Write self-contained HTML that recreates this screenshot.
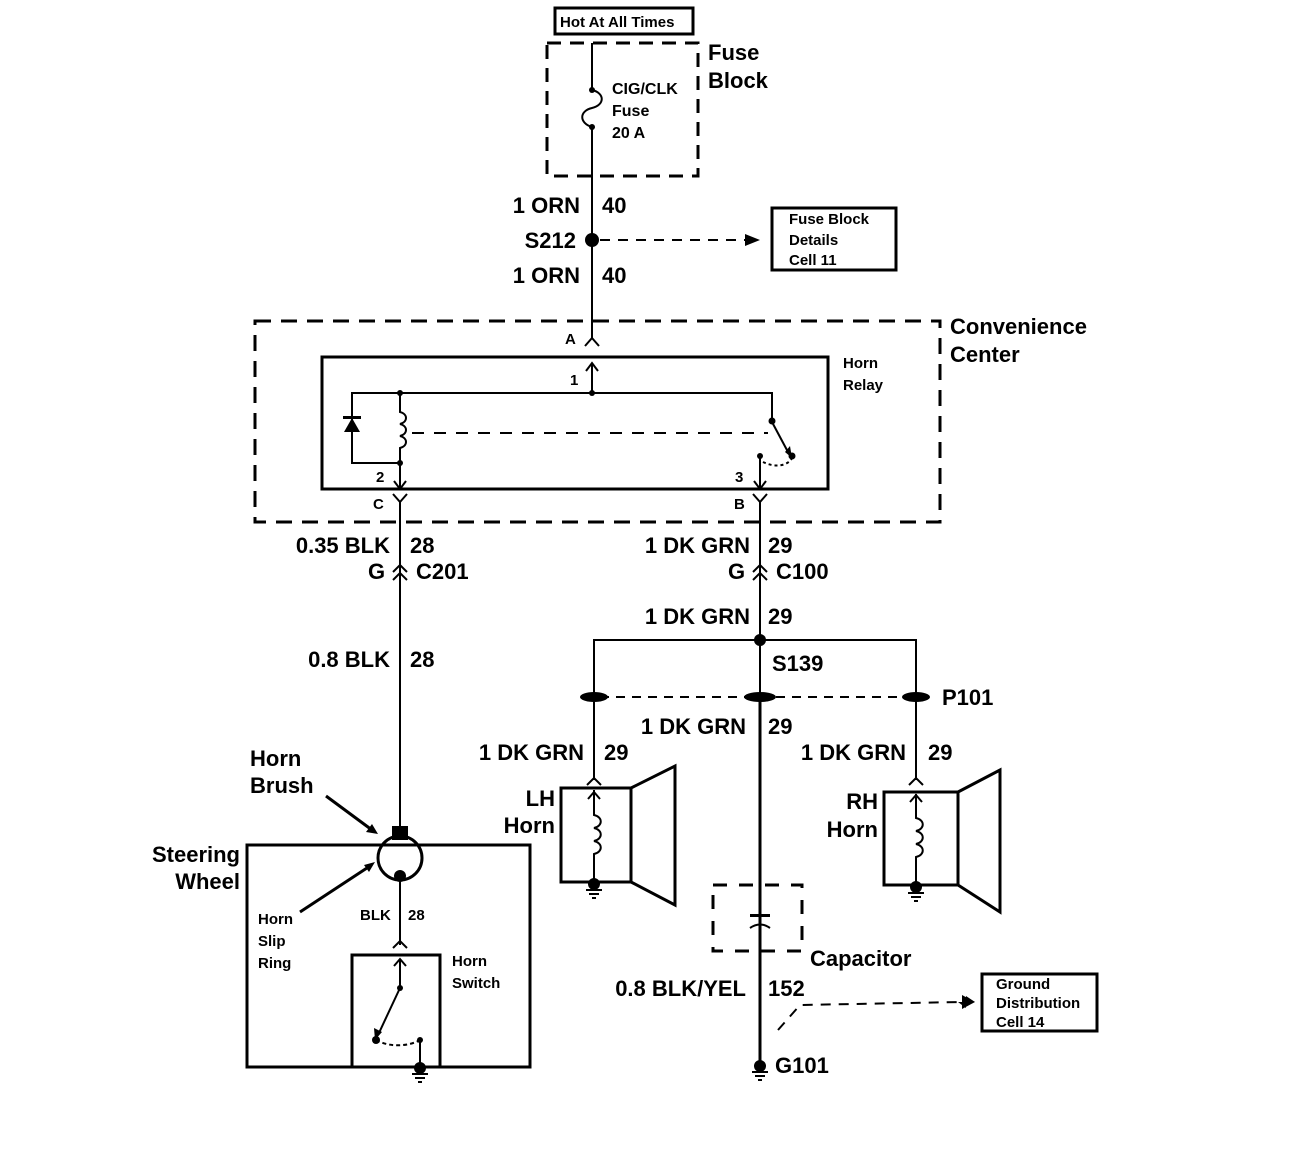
<!DOCTYPE html>
<html><head><meta charset="utf-8"><style>
html,body{margin:0;padding:0;background:#fff}
svg{display:block}
text{font-family:"Liberation Sans",sans-serif;font-weight:bold;fill:#000}
.b{font-size:22px}.s{font-size:15px}.m{font-size:16px}
</style></head><body>
<svg width="1312" height="1154" viewBox="0 0 1312 1154" xmlns="http://www.w3.org/2000/svg">
<g fill="none" stroke="#000" stroke-width="2">
<!-- Hot box -->
<rect x="555" y="8" width="138" height="26" stroke-width="3"/>
<rect x="547" y="43" width="151" height="133" stroke-width="3" stroke-dasharray="14,9"/>
<!-- main wire -->
<line x1="592" y1="43" x2="592" y2="90"/>
<path d="M592 90 C605 93 605 105 592 108 C579 111 579 123 592 127"/>
<line x1="592" y1="127" x2="592" y2="338"/>
<line x1="600" y1="240" x2="745" y2="240" stroke-dasharray="10,8"/>
<rect x="772" y="208" width="124" height="62" stroke-width="3"/>
<!-- conv center -->
<rect x="255" y="321" width="685" height="201" stroke-width="3" stroke-dasharray="16,10"/>
<path d="M585 346 L592 338 L599 346"/>
<rect x="322" y="357" width="506" height="132" stroke-width="3"/>
<line x1="592" y1="364" x2="592" y2="393"/>
<path d="M586 371 L592 363 L598 371"/>
<path d="M400 393 L772 393 L772 420"/>
<path d="M400 393 L352 393 L352 463 L400 463"/>
<path d="M400 393 L400 412 C408 414 408 422 400 424 C408 426 408 434 400 436 C408 438 408 446 400 448 L400 489"/>
<path d="M394 481 L400 489 L406 481"/>
<line x1="412" y1="433" x2="768" y2="433" stroke-dasharray="12,10"/>
<line x1="772" y1="422" x2="788" y2="452"/>
<line x1="760" y1="456" x2="760" y2="489"/>
<path d="M754 481 L760 489 L766 481"/>
<path d="M763 462 C775 468 788 466 792 458" stroke-dasharray="3,3"/>
<path d="M393 494 L400 502 L407 494 M400 502 L400 510"/>
<path d="M753 494 L760 502 L767 494 M760 502 L760 510"/>
<!-- left wire -->
<line x1="400" y1="502" x2="400" y2="826"/>
<path d="M393 572 L400 565 L407 572 M393 580 L400 573 L407 580"/>
<!-- right wire -->
<line x1="760" y1="502" x2="760" y2="697"/>
<path d="M753 572 L760 565 L767 572 M753 580 L760 573 L767 580"/>
<path d="M594 780 L594 640 L916 640 L916 780"/>
<line x1="760" y1="697" x2="760" y2="1065" stroke-width="3"/>
<line x1="600" y1="697" x2="910" y2="697" stroke-dasharray="9,7"/>
<!-- LH horn -->
<rect x="561" y="788" width="70" height="94" stroke-width="3"/>
<path d="M631 788 L675 766 L675 905 L631 882" stroke-width="3"/>
<path d="M587 785 L594 778 L601 785"/>
<path d="M594 790 L594 815 C603 817 603 826 594 828 C603 830 603 839 594 841 C603 843 603 852 594 854 L594 882"/>
<path d="M588 799 L594 792 L600 799"/>
<!-- RH horn -->
<rect x="884" y="792" width="74" height="93" stroke-width="3"/>
<path d="M958 792 L1000 770 L1000 912 L958 885" stroke-width="3"/>
<path d="M909 785 L916 778 L923 785"/>
<path d="M916 794 L916 818 C925 820 925 829 916 831 C925 833 925 842 916 844 C925 846 925 855 916 857 L916 885"/>
<path d="M910 802 L916 795 L922 802"/>
<!-- capacitor -->
<rect x="713" y="885" width="89" height="66" stroke-width="3" stroke-dasharray="14,12"/>
<!-- ground dist -->
<path d="M778 1030 L800 1005 L962 1002" stroke-dasharray="10,8"/>
<rect x="982" y="974" width="115" height="57" stroke-width="3"/>
<!-- steering -->
<line x1="326" y1="796" x2="372" y2="830" stroke-width="3"/>
<rect x="247" y="845" width="283" height="222" stroke-width="3"/>
<circle cx="400" cy="858" r="22" stroke-width="3"/>
<line x1="300" y1="912" x2="370" y2="866" stroke-width="3"/>
<line x1="400" y1="876" x2="400" y2="945"/>
<path d="M393 948 L400 941 L407 948"/>
<rect x="352" y="955" width="88" height="112" stroke-width="3"/>
<line x1="400" y1="960" x2="400" y2="988"/>
<path d="M394 966 L400 959 L406 966"/>
<line x1="400" y1="988" x2="378" y2="1035"/>
<path d="M376 1040 C390 1048 410 1046 420 1040" stroke-dasharray="4,3"/>
<line x1="420" y1="1040" x2="420" y2="1067"/>
</g>
<g fill="#000">
<circle cx="592" cy="240" r="7"/>
<polygon points="760,240 745,234 745,246"/>
<circle cx="592" cy="90" r="3"/><circle cx="592" cy="127" r="3"/>
<circle cx="592" cy="393" r="3"/><circle cx="400" cy="393" r="3"/><circle cx="400" cy="463" r="3"/>
<circle cx="772" cy="421" r="3.5"/><circle cx="792" cy="456" r="3.5"/><circle cx="760" cy="456" r="3"/>
<polygon points="344,432 360,432 352,418"/><rect x="343" y="416" width="18" height="3"/>
<polygon points="785,452 792,458 790,446"/>
<circle cx="760" cy="640" r="6"/>
<ellipse cx="594" cy="697" rx="14" ry="5"/><ellipse cx="760" cy="697" rx="16" ry="5"/><ellipse cx="916" cy="697" rx="14" ry="5"/>
<rect x="750" y="914" width="20" height="3"/>
<polygon points="958,1002 975,1002 966,996 966,1008" /><polygon points="975,1002 962,995 962,1009"/>
<rect x="392" y="826" width="16" height="14"/>
<polygon points="378,834 366,832 372,824"/>
<polygon points="375,862 364,865 369,872"/>
<circle cx="400" cy="876" r="6"/>
<circle cx="400" cy="988" r="3"/><circle cx="376" cy="1040" r="4"/><circle cx="420" cy="1040" r="3"/>
<polygon points="375,1040 374,1028 382,1032"/>
</g>
<!-- grounds -->
<g stroke="#000" stroke-width="2">
<circle cx="594" cy="884" r="5" fill="#000"/><line x1="586" y1="890" x2="602" y2="890"/><line x1="589" y1="894" x2="599" y2="894"/><line x1="592" y1="898" x2="596" y2="898"/>
<circle cx="916" cy="887" r="5" fill="#000"/><line x1="908" y1="893" x2="924" y2="893"/><line x1="911" y1="897" x2="921" y2="897"/><line x1="914" y1="901" x2="918" y2="901"/>
<circle cx="760" cy="1066" r="5" fill="#000"/><line x1="752" y1="1072" x2="768" y2="1072"/><line x1="755" y1="1076" x2="765" y2="1076"/><line x1="758" y1="1080" x2="762" y2="1080"/>
<circle cx="420" cy="1068" r="5" fill="#000"/><line x1="412" y1="1074" x2="428" y2="1074"/><line x1="415" y1="1078" x2="425" y2="1078"/><line x1="418" y1="1082" x2="422" y2="1082"/>
<line x1="759" y1="922" x2="759" y2="928" stroke="none"/>
<path d="M750 928 Q760 921 770 928" fill="none"/>
</g>
<!-- text -->
<text x="560" y="27" class="s">Hot At All Times</text>
<text x="708" y="60" class="b">Fuse</text><text x="708" y="88" class="b">Block</text>
<text x="612" y="94" class="m">CIG/CLK</text><text x="612" y="116" class="m">Fuse</text><text x="612" y="138" class="m">20 A</text>
<text x="580" y="213" class="b" text-anchor="end">1 ORN</text><text x="602" y="213" class="b">40</text>
<text x="576" y="248" class="b" text-anchor="end">S212</text>
<text x="580" y="283" class="b" text-anchor="end">1 ORN</text><text x="602" y="283" class="b">40</text>
<text x="789" y="224" class="s">Fuse Block</text><text x="789" y="245" class="s">Details</text><text x="789" y="265" class="s">Cell 11</text>
<text x="950" y="334" class="b">Convenience</text><text x="950" y="362" class="b">Center</text>
<text x="565" y="344" class="s">A</text><text x="570" y="385" class="s">1</text>
<text x="843" y="368" class="s">Horn</text><text x="843" y="390" class="s">Relay</text>
<text x="376" y="482" class="s">2</text><text x="735" y="482" class="s">3</text>
<text x="373" y="509" class="s">C</text><text x="734" y="509" class="s">B</text>
<text x="390" y="553" class="b" text-anchor="end">0.35 BLK</text><text x="410" y="553" class="b">28</text>
<text x="368" y="579" class="b">G</text><text x="416" y="579" class="b">C201</text>
<text x="750" y="553" class="b" text-anchor="end">1 DK GRN</text><text x="768" y="553" class="b">29</text>
<text x="728" y="579" class="b">G</text><text x="776" y="579" class="b">C100</text>
<text x="750" y="624" class="b" text-anchor="end">1 DK GRN</text><text x="768" y="624" class="b">29</text>
<text x="772" y="671" class="b">S139</text>
<text x="942" y="705" class="b">P101</text>
<text x="390" y="667" class="b" text-anchor="end">0.8 BLK</text><text x="410" y="667" class="b">28</text>
<text x="746" y="734" class="b" text-anchor="end">1 DK GRN</text><text x="768" y="734" class="b">29</text>
<text x="584" y="760" class="b" text-anchor="end">1 DK GRN</text><text x="604" y="760" class="b">29</text>
<text x="906" y="760" class="b" text-anchor="end">1 DK GRN</text><text x="928" y="760" class="b">29</text>
<text x="555" y="806" class="b" text-anchor="end">LH</text><text x="555" y="833" class="b" text-anchor="end">Horn</text>
<text x="878" y="809" class="b" text-anchor="end">RH</text><text x="878" y="837" class="b" text-anchor="end">Horn</text>
<text x="810" y="966" class="b">Capacitor</text>
<text x="746" y="996" class="b" text-anchor="end">0.8 BLK/YEL</text><text x="768" y="996" class="b">152</text>
<text x="996" y="989" class="s">Ground</text><text x="996" y="1008" class="s">Distribution</text><text x="996" y="1027" class="s">Cell 14</text>
<text x="775" y="1073" class="b">G101</text>
<text x="250" y="766" class="b">Horn</text><text x="250" y="793" class="b">Brush</text>
<text x="240" y="862" class="b" text-anchor="end">Steering</text><text x="240" y="889" class="b" text-anchor="end">Wheel</text>
<text x="258" y="924" class="s">Horn</text><text x="258" y="946" class="s">Slip</text><text x="258" y="968" class="s">Ring</text>
<text x="360" y="920" class="s">BLK</text><text x="408" y="920" class="s">28</text>
<text x="452" y="966" class="s">Horn</text><text x="452" y="988" class="s">Switch</text>
</svg>
</body></html>
